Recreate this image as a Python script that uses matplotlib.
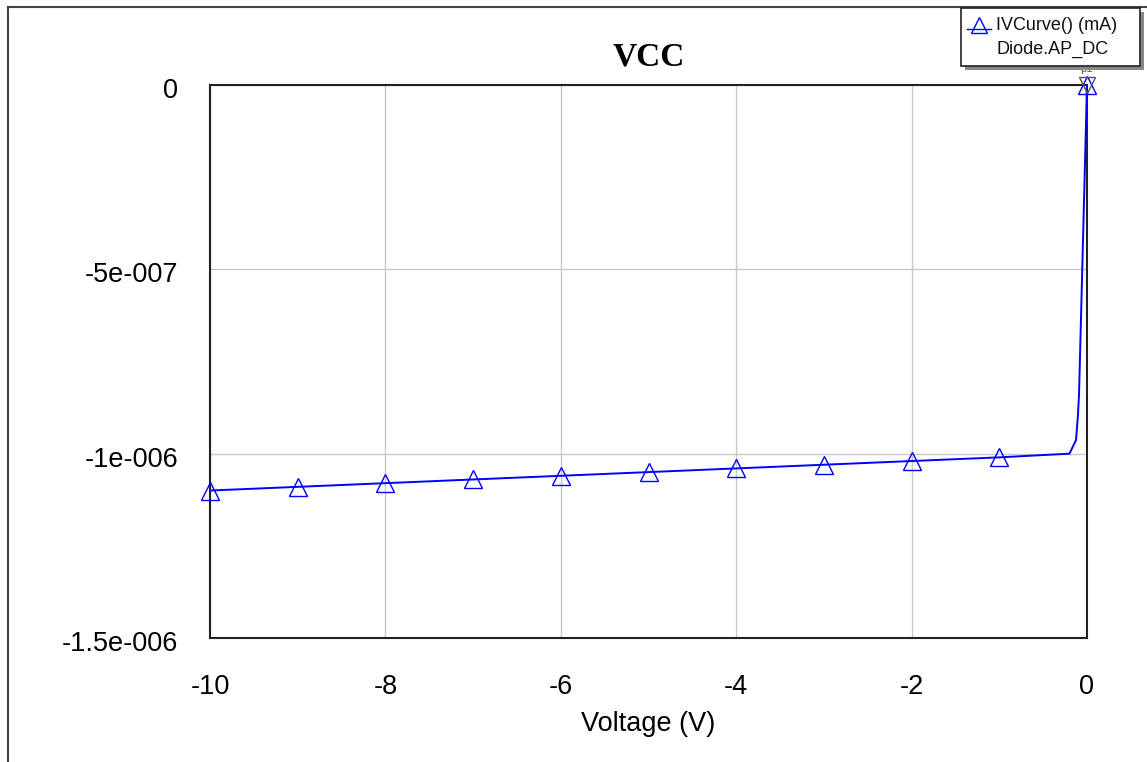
import matplotlib.pyplot as plt
from matplotlib.patches import Rectangle
from matplotlib.lines import Line2D
from matplotlib.transforms import ScaledTranslation

plt.rcParams['font.family'] = ['Liberation Sans', 'DejaVu Sans']

# IV curve of the diode (reverse region), current in mA
voltage = [-10, -9, -8, -7, -6, -5, -4, -3, -2, -1, -0.2, -0.125, -0.103, -0.091, 0]
current = [-1.10e-6, -1.09e-6, -1.08e-6, -1.07e-6, -1.06e-6, -1.05e-6, -1.04e-6,
           -1.03e-6, -1.02e-6, -1.01e-6, -1.0e-6, -0.963e-6, -0.895e-6, -0.84e-6, 0.0]
marker_v = [-10, -9, -8, -7, -6, -5, -4, -3, -2, -1, 0]
marker_i = [-1.10e-6, -1.09e-6, -1.08e-6, -1.07e-6, -1.06e-6, -1.05e-6, -1.04e-6,
            -1.03e-6, -1.02e-6, -1.01e-6, 0.0]

xticks = [-10, -8, -6, -4, -2, 0]
yticks = [0, -5e-7, -1e-6, -1.5e-6]
ytick_labels = ['0', '-5e-007', '-1e-006', '-1.5e-006']

fig = plt.figure(figsize=(11.47, 7.62), dpi=100)
W, H = 1147, 762
ax = fig.add_axes([210 / W, 1 - 638 / H, (1087 - 210) / W, (638 - 85) / H])

ax.plot(voltage, current, color='#0000ff', lw=1.4, zorder=3)
ax.plot(marker_v, marker_i, ls='none', marker='^', ms=13, mfc='none',
        mec='#0000ff', mew=1.0, zorder=4, clip_on=False)
# marker p1 at the origin
ax.plot([0], [0], ls='none', marker='v', ms=12, mfc='none', mec='#555555',
        mew=1.0, zorder=5, clip_on=False)
ax.text(0, 0.3e-7, 'p1', fontsize=8, color='#555555', ha='center', va='bottom')

ax.set_xlim(-10, 0)
ax.set_ylim(-1.5e-6, 0)
ax.set_xticks(xticks)
ax.set_xticklabels([str(t) for t in xticks])
ax.set_yticks(yticks)
ax.set_yticklabels(ytick_labels)
ax.tick_params(length=0, labelsize=19.5)
ax.tick_params(axis='y', pad=23)
ax.tick_params(axis='x', pad=26)
shift = ScaledTranslation(0, -3 / 100, fig.dpi_scale_trans)
for lbl in ax.get_yticklabels():
    lbl.set_transform(lbl.get_transform() + shift)
ax.grid(True, color='#c8c8c8', lw=1.0)
ax.set_axisbelow(True)
for s in ax.spines.values():
    s.set_color('#222222')
    s.set_linewidth(1.5)

ax.set_xlabel('Voltage (V)', fontsize=19.5, labelpad=8)
ax.set_title('VCC', fontsize=24, fontweight='bold', family='Liberation Serif', pad=14)

# window frame
fig.add_artist(Line2D([8 / W, 8 / W], [0, 1 - 7 / H], transform=fig.transFigure,
                      color='#444444', lw=1.5))
fig.add_artist(Line2D([8 / W, 1], [1 - 7 / H, 1 - 7 / H], transform=fig.transFigure,
                      color='#444444', lw=1.5))

# legend box with shadow
lx0, ly0, lx1, ly1 = 961, 8, 1140, 66
fig.add_artist(Rectangle(((lx0 + 4) / W, 1 - (ly1 + 4) / H), (lx1 - lx0) / W,
                         (ly1 - ly0) / H, transform=fig.transFigure,
                         facecolor='#888888', edgecolor='none', zorder=9))
fig.add_artist(Rectangle((lx0 / W, 1 - ly1 / H), (lx1 - lx0) / W, (ly1 - ly0) / H,
                         transform=fig.transFigure, facecolor='white',
                         edgecolor='#222222', lw=1.2, zorder=10))
fig.add_artist(Line2D([967 / W, 991 / W], [1 - 29 / H, 1 - 29 / H],
                      transform=fig.transFigure, color='#0000ff', lw=1.0, zorder=11))
fig.add_artist(Line2D([978.5 / W], [1 - 25 / H], transform=fig.transFigure,
                      marker='^', ms=11, mfc='none', mec='#0000ff', ls='none', zorder=11))
fig.text(996 / W, 1 - 25 / H, 'IVCurve() (mA)', fontsize=13, va='center',
         color='#111111', zorder=12)
fig.text(996 / W, 1 - 49 / H, 'Diode.AP_DC', fontsize=13, va='center',
         color='#111111', zorder=12)

fig.savefig('out.png', dpi=100)
